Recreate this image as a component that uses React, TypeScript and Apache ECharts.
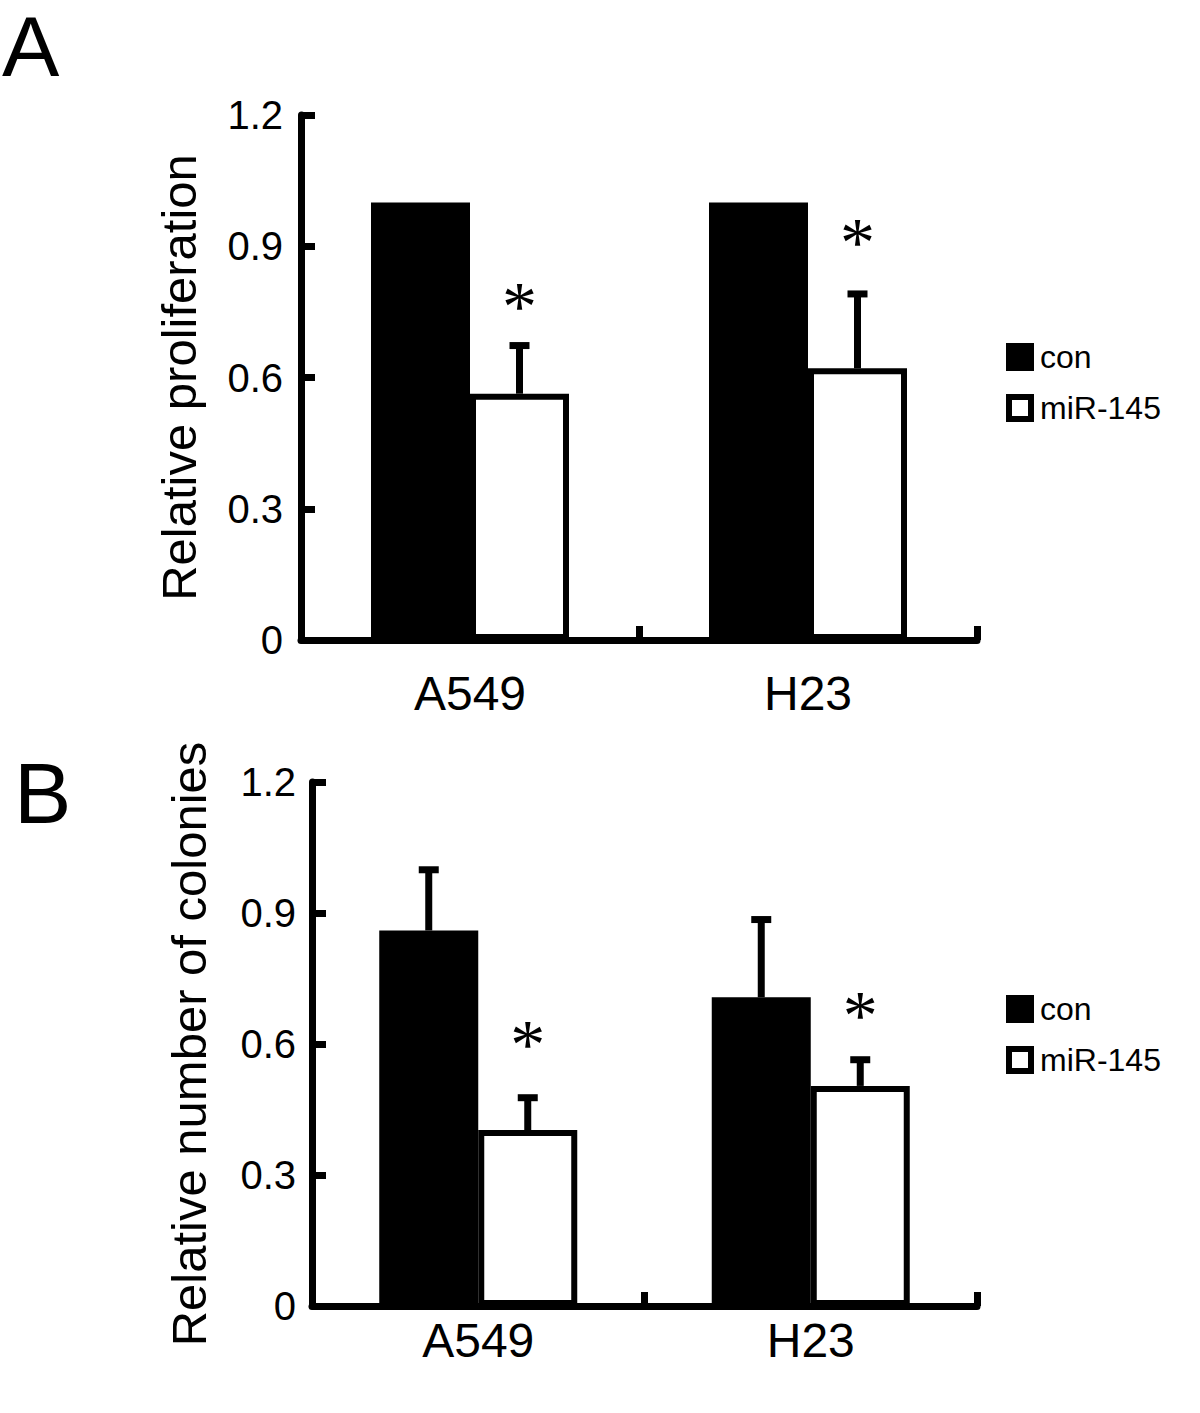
import React, { useEffect, useRef } from "react";
import * as echarts from "echarts";

// ---------- data ----------
const categories = ["A549", "H23"];
const legendNames = ["con", "miR-145"];
const yTicks = [0, 0.3, 0.6, 0.9, 1.2];
const yTickLabels = ["0", "0.3", "0.6", "0.9", "1.2"];

// Panel A: relative proliferation
const aCon = [1.0, 1.0];
const aConErr = [0, 0];
const aMir = [0.563, 0.621];
const aMirErr = [0.11, 0.17];
const aStar = [0.784, 0.929]; // asterisk heights (miR-145)

// Panel B: relative number of colonies
const bCon = [0.86, 0.707];
const bConErr = [0.139, 0.178];
const bMir = [0.403, 0.504];
const bMirErr = [0.074, 0.06];
const bStar = [0.62, 0.686];

const FONT = "'Liberation Sans', Arial, Helvetica, sans-serif";
const BAR_W = 99;

function errRender(side: number) {
  return (params: any, api: any) => {
    const idx = api.value(0);
    const mean = api.value(1);
    const err = api.value(2);
    const star = api.value(3);
    const base = api.coord([idx, mean]);
    const top = api.coord([idx, mean + err]);
    const x = base[0] + (side * BAR_W) / 2;
    const children: any[] = [];
    if (err > 0) {
      children.push({
        type: "line",
        shape: { x1: x, y1: base[1], x2: x, y2: top[1] },
        style: { stroke: "#000", lineWidth: 7 },
      });
      children.push({
        type: "line",
        shape: { x1: x - 10, y1: top[1], x2: x + 10, y2: top[1] },
        style: { stroke: "#000", lineWidth: 7 },
      });
    }
    if (!isNaN(star)) {
      const sp = api.coord([idx, star]);
      children.push({
        type: "text",
        x: x,
        y: sp[1] + 9,
        style: {
          text: "*",
          fontSize: 70,
          fontFamily: "'Liberation Serif', 'Times New Roman', serif",
          fill: "#000",
          align: "center",
          verticalAlign: "middle",
        },
      });
    }
    return { type: "group", children };
  };
}

function errData(mean: number[], err: number[], star?: number[]) {
  return mean.map((m, i) => [i, m, err[i], star ? star[i] : NaN]);
}

function yAxisFor(gridIndex: number, name: string, nameGap: number, margin: number) {
  return {
    type: "value",
    gridIndex,
    min: 0,
    max: 1.2,
    interval: 0.3,
    name,
    nameLocation: "middle",
    nameGap,
    nameTextStyle: { fontSize: 49, color: "#000", fontFamily: FONT },
    axisLine: { show: true, lineStyle: { color: "#000", width: 7 } },
    axisTick: { show: true, inside: true, length: 14, lineStyle: { color: "#000", width: 7 } },
    splitLine: { show: false },
    axisLabel: {
      fontSize: 40,
      color: "#000",
      fontFamily: FONT,
      margin,
      formatter: (v: number) => {
        const i = yTicks.findIndex((t) => Math.abs(t - v) < 1e-6);
        return i >= 0 ? yTickLabels[i] : "";
      },
    },
  };
}

function xAxisFor(gridIndex: number, margin: number) {
  return {
    type: "category",
    gridIndex,
    data: categories,
    axisLine: { show: true, lineStyle: { color: "#000", width: 7 } },
    axisTick: { show: true, inside: true, length: 14, lineStyle: { color: "#000", width: 7 } },
    axisLabel: { fontSize: 48, color: "#000", fontFamily: FONT, margin },
    splitLine: { show: false },
  };
}

function legendFor(top: number) {
  return {
    orient: "vertical",
    left: 1006,
    top,
    padding: 0,
    itemWidth: 22,
    itemHeight: 22,
    itemGap: 19,
    icon: "rect",
    selectedMode: false,
    textStyle: { fontSize: 32, color: "#000", fontFamily: FONT, lineHeight: 28, padding: [0, 0, 0, 4] },
    data: [
      { name: legendNames[0], itemStyle: { color: "#000", borderColor: "#000", borderWidth: 6 } },
      { name: legendNames[1], itemStyle: { color: "#fff", borderColor: "#000", borderWidth: 6 } },
    ],
  };
}

function barSeries(name: string, data: number[], idx: number, fill: string) {
  return {
    type: "bar",
    name,
    xAxisIndex: idx,
    yAxisIndex: idx,
    data,
    barWidth: BAR_W,
    barGap: "0%",
    itemStyle: { color: fill, borderColor: "#000", borderWidth: 6 },
    z: 2,
  };
}

function errSeries(idx: number, side: number, data: any[]) {
  return {
    type: "custom",
    xAxisIndex: idx,
    yAxisIndex: idx,
    renderItem: errRender(side),
    encode: { x: 0, y: 1 },
    data,
    z: 3,
    silent: true,
  };
}

export default function App() {
  const ref = useRef<HTMLDivElement>(null);
  useEffect(() => {
    if (!ref.current) return;
    const chart = echarts.init(ref.current, null, { renderer: "svg" });
    chart.setOption({
      animation: false,
      backgroundColor: "#fff",
      grid: [
        { left: 301, top: 115, width: 676, height: 525 },
        { left: 312, top: 782, width: 665, height: 524 },
      ],
      xAxis: [xAxisFor(0, 29), xAxisFor(1, 10)],
      yAxis: [
        yAxisFor(0, "Relative proliferation", 98, 18),
        yAxisFor(1, "Relative number of colonies", 99, 16),
      ],
      legend: [legendFor(341), legendFor(993)],
      graphic: [
        { type: "text", left: 2, top: 3, style: { text: "A", fontSize: 86, fontFamily: FONT, fill: "#000" } },
        { type: "text", left: 14, top: 750, style: { text: "B", fontSize: 86, fontFamily: FONT, fill: "#000" } },
      ],
      series: [
        barSeries(legendNames[0], aCon, 0, "#000"),
        barSeries(legendNames[1], aMir, 0, "#fff"),
        errSeries(0, -1, errData(aCon, aConErr)),
        errSeries(0, 1, errData(aMir, aMirErr, aStar)),
        barSeries(legendNames[0], bCon, 1, "#000"),
        barSeries(legendNames[1], bMir, 1, "#fff"),
        errSeries(1, -1, errData(bCon, bConErr)),
        errSeries(1, 1, errData(bMir, bMirErr, bStar)),
      ],
    });
    return () => chart.dispose();
  }, []);
  return (
    <div
      ref={ref}
      style={{ position: "absolute", left: 0, top: 0, width: 1200, height: 1413, background: "#fff" }}
    />
  );
}
